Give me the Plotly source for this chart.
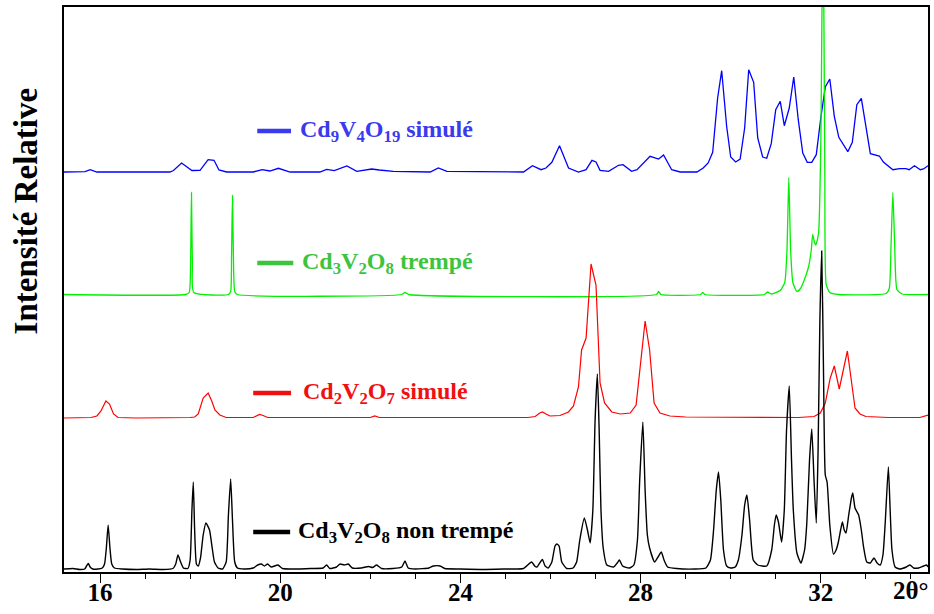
import plotly.graph_objects as go

# ---- data (2theta, relative intensity above each pattern's baseline) ----
black_x = [15.20,15.40,15.55,15.66,15.70,15.74,15.78,15.84,15.95,16.05,16.10,16.14,16.18,16.22,16.26,16.32,16.50,16.80,17.10,17.40,
           17.62,17.68,17.73,17.78,17.85,17.95,18.00,18.04,18.07,18.10,18.14,18.18,18.23,18.29,18.35,18.43,18.49,18.54,18.62,18.72,
           18.80,18.85,18.90,18.94,18.99,19.05,19.20,19.40,19.50,19.58,19.65,19.72,19.80,19.95,20.05,20.40,20.70,20.95,21.03,21.10,
           21.25,21.33,21.42,21.51,21.60,21.80,21.96,22.05,22.14,22.25,22.50,22.70,22.77,22.84,23.00,23.30,23.40,23.55,23.65,24.00,
           24.50,25.00,25.40,25.58,25.65,25.70,25.76,25.82,25.88,25.95,26.03,26.10,26.14,26.19,26.25,26.36,26.50,26.58,26.65,26.75,
           26.82,26.88,26.94,26.99,27.04,27.08,27.12,27.17,27.25,27.40,27.48,27.53,27.60,27.75,27.85,27.93,27.98,28.05,28.10,28.15,
           28.20,28.31,28.40,28.46,28.52,28.60,28.80,29.20,29.45,29.55,29.62,29.68,29.73,29.78,29.84,29.91,30.00,30.10,30.17,30.25,
           30.31,30.36,30.42,30.50,30.60,30.80,30.91,30.97,31.01,31.06,31.13,31.19,31.24,31.30,31.35,31.39,31.47,31.56,31.64,31.69,
           31.75,31.80,31.85,31.90,31.94,31.98,32.02,32.06,32.10,32.14,32.20,32.28,32.34,32.39,32.44,32.48,32.52,32.56,32.62,32.68,
           32.71,32.76,32.84,32.90,32.95,33.02,33.10,33.18,33.25,33.32,33.38,33.43,33.50,33.54,33.58,33.65,33.75,33.90,33.98,34.06,
           34.17,34.28,34.35,34.38]
black_y = [1,1.5,0.5,1,4,6.5,3,1,1,2,6,22,45,22,6,2,1,0.5,1,0.5,
           1.5,6,15,9,2,1.5,10,60,88,40,6,4,12,35,47,40,22,8,2,1,
           8,55,91,50,8,2,1,2,5,6,4,6,3,5,1.5,1,1.5,2,5,1.5,
           3,6,5,6,2,2,3.5,2.5,5,1.5,1.5,3,9,2,1,2,4,4,1.5,1,
           0.5,1,1.5,8,4,3,7,10.5,4,2,8,24,26,24,8,1.5,2,8,30,52,
           40,27,60,150,196,140,60,22,5,3,7,10,4,2,5,30,90,148,80,35,
           22,8,14,18,10,3,1.5,1,2,10,40,80,98,70,20,4,2,3,10,35,
           65,75,50,10,5,4,20,45,55,48,28,60,140,184,110,60,17,7,20,47,
           110,141,90,47,120,250,319,200,95,88,45,16,20,28,40,48,40,37,55,72,
           77,62,55,40,23,8,7,12,7,5,15,47,103,60,20,3,1,3,5,2,
           2,4,5,3]

red_x = [15.20,15.80,15.93,16.02,16.13,16.21,16.30,16.40,16.80,17.50,18.00,18.10,18.18,18.29,18.40,18.48,18.55,18.66,18.80,19.40,
         19.48,19.54,19.62,19.72,20.20,22.00,22.10,22.20,25.50,25.66,25.76,25.82,25.90,25.99,26.21,26.40,26.51,26.62,26.69,26.79,
         26.90,27.01,27.10,27.20,27.36,27.55,27.77,27.90,28.10,28.20,28.30,28.43,28.65,29.00,31.50,31.85,31.99,32.10,32.21,32.30,
         32.41,32.59,32.76,32.87,33.00,33.50,34.20,34.38]
red_y = [0,0.5,2,7,17,14,4,0.5,0,0,0.5,1,4,20,25,17,8,3,0.5,0.5,
         2.5,3.5,2.5,0.5,0.5,0.5,2,0.5,0.5,1.5,5,6,4,2,2.5,6,12,31,68,80,
         154,133,35,15,6,4,5,13,97,68,15,5,2,1,0.5,1.5,5,15,40,52,
         29,67,10,4,1.5,0.5,0.5,3]

green_x = [15.20,17.90,17.98,18.01,18.03,18.05,18.08,18.85,18.90,18.92,18.94,18.96,18.99,19.05,22.70,22.77,22.85,28.35,28.40,28.45,
           29.33,29.38,29.43,30.75,30.82,30.90,31.10,31.20,31.25,31.29,31.33,31.38,31.47,31.55,31.62,31.73,31.79,31.82,31.86,31.89,
           31.95,32.00,32.05,32.09,32.12,32.20,32.40,33.45,33.52,33.56,33.60,33.64,33.69,33.80,34.38]
green_y = [0,0,2,30,102,30,2,0,3,40,99,40,3,0,0,2,0,0,3,0,
           0,2,0,0,2.5,0.5,4,12,45,117,45,12,3,6,13,28,45,60,52,49.5,
           61,150,400,120,10,2,0,1,6,50,102,50,5,0.5,0]

blue_x = [15.20,15.67,15.78,15.93,17.55,17.63,17.81,18.04,18.22,18.40,18.53,18.64,18.81,19.40,19.60,19.77,19.96,20.22,20.88,21.03,
          21.20,21.48,21.70,22.03,22.20,22.51,23.33,23.51,23.70,25.40,25.60,25.79,25.90,26.03,26.20,26.40,26.62,26.79,26.92,27.01,
          27.10,27.29,27.51,27.61,27.80,27.92,28.21,28.40,28.51,28.69,28.88,29.25,29.39,29.50,29.60,29.71,29.80,29.91,30.00,30.11,
          30.21,30.31,30.40,30.51,30.60,30.71,30.80,30.90,31.00,31.10,31.19,31.30,31.40,31.50,31.60,31.70,31.80,31.90,32.00,32.10,
          32.20,32.30,32.40,32.50,32.60,32.70,32.80,32.90,33.00,33.10,33.30,33.39,33.60,33.75,33.89,33.96,34.08,34.21,34.28,34.38]
blue_y = [0,0.3,2.3,0,0,1.5,9,1.5,1.7,12.3,11.7,2,0,0,2.3,1,3.7,0,0,2.7,
          1.3,6,0.7,3,2,0.7,0,4,0.7,0,6.3,2.3,4,9.7,26.3,4,0,2.3,11.7,10,
          1.7,0.7,6.7,7.3,0.7,2.3,15.7,13,17,2.3,0,0,4,9,19.7,74,101.3,45.7,15,10,
          13,44,102.3,89.7,34,15,13.7,28.3,62.3,70.7,46.3,64,95,52.3,19,9.7,9.7,17.3,54,85,
          93,55.7,34.7,27.3,20.3,29.7,67.3,73.7,45,18.3,16,10,2.3,3.3,3.3,2.3,6.3,2.3,3,6.3]

offsets = {"black": 2, "red": 154, "green": 277.5, "blue": 400}

labels = {
    "blue": "<b>Cd<sub>9</sub>V<sub>4</sub>O<sub>19</sub> simulé</b>",
    "green": "<b>Cd<sub>3</sub>V<sub>2</sub>O<sub>8</sub> trempé</b>",
    "red": "<b>Cd<sub>2</sub>V<sub>2</sub>O<sub>7</sub> simulé</b>",
    "black": "<b>Cd<sub>3</sub>V<sub>2</sub>O<sub>8</sub> non trempé</b>",
}
tick_vals = [16, 20, 24, 28, 32]
tick_text = ["16", "20", "24", "28", "32"]

FONT = "Liberation Serif, Times New Roman, serif"
line_col = {"black": "#000000", "red": "#ff0000", "green": "#00f000", "blue": "#0000ff"}
text_col = {"black": "#000000", "red": "#f01010", "green": "#3cc43c", "blue": "#3a3aee"}
widths = {"black": 1.4, "red": 1.2, "green": 1.3, "blue": 1.3}
shapes = {"black": "spline", "red": "linear", "green": "spline", "blue": "linear"}

series = {
    "blue": (blue_x, blue_y),
    "green": (green_x, green_y),
    "red": (red_x, red_y),
    "black": (black_x, black_y),
}

fig = go.Figure()
for name, (xs, ys) in series.items():
    off = offsets[name]
    fig.add_trace(go.Scatter(
        x=xs, y=[v + off for v in ys], mode="lines",
        line=dict(color=line_col[name], width=widths[name], shape=shapes[name], smoothing=0.5),
        showlegend=False, hoverinfo="skip"))

# in-plot legend: short thick line + label (positions in data coords)
legend_pos = {
    "blue": (19.49, 20.24, 441, 20.40),
    "green": (19.49, 20.29, 309, 20.43),
    "red": (19.40, 20.24, 179, 20.47),
    "black": (19.40, 20.22, 40, 20.36),
}
for name, (x0, x1, yy, xt) in legend_pos.items():
    fig.add_shape(type="line", x0=x0, x1=x1, y0=yy, y1=yy, xref="x", yref="y",
                  line=dict(color=text_col[name], width=4.5))
    fig.add_annotation(x=xt, y=yy, xref="x", yref="y", text=labels[name],
                       showarrow=False, xanchor="left", yanchor="middle",
                       font=dict(family=FONT, size=24, color=text_col[name]))

fig.add_annotation(x=34.0, y=-0.006, xref="x", yref="paper", text="<b>2θ°</b>",
                   showarrow=False, xanchor="center", yanchor="top",
                   font=dict(family=FONT, size=25, color="black"))
fig.add_annotation(x=-0.044, y=0.64, xref="paper", yref="paper", text="<b>Intensité Relative</b>",
                   textangle=-90, showarrow=False, xanchor="center", yanchor="middle",
                   font=dict(family=FONT, size=33, color="black"))

fig.update_xaxes(range=[15.20, 34.38], tickvals=tick_vals, ticktext=tick_text,
                 ticks="outside", ticklen=9, tickwidth=1, tickcolor="black",
                 ticklabelstandoff=-12,
                 minor=dict(dtick=1, tick0=0, ticks="outside", ticklen=5, tickcolor="black", tickwidth=1),
                 showline=True, linecolor="black", linewidth=2, mirror=True,
                 showgrid=False, zeroline=False, automargin=False,
                 tickfont=dict(family=FONT, size=25, color="black", weight="bold"))
fig.update_yaxes(range=[0, 565], showticklabels=False, ticks="",
                 showline=True, linecolor="black", linewidth=2, mirror=True,
                 showgrid=False, zeroline=False, automargin=False)

fig.update_layout(width=934, height=614, margin=dict(l=64, r=6, t=7, b=42),
                  plot_bgcolor="white", paper_bgcolor="white")

fig.write_html("out.html", config={"displayModeBar": False},
               post_script="document.body.style.margin='0';document.body.style.overflow='hidden';")
